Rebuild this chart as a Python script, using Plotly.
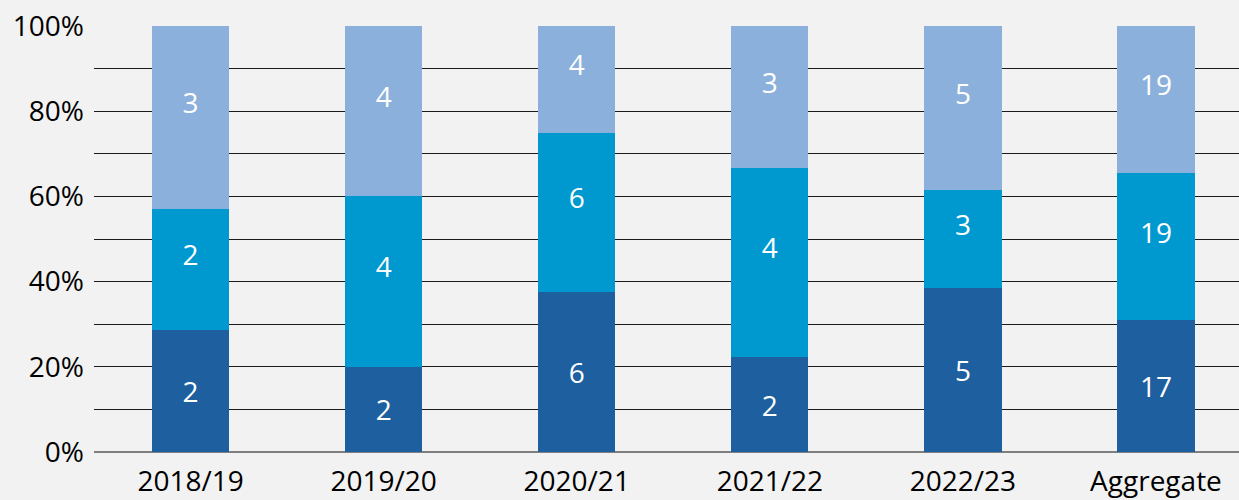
import plotly.graph_objects as go

categories = ["2018/19", "2019/20", "2020/21", "2021/22", "2022/23", "Aggregate"]
bottom_vals = [2, 2, 6, 2, 5, 17]
middle_vals = [2, 4, 6, 4, 3, 19]
top_vals = [3, 4, 4, 3, 5, 19]

# (name, values, colour, whether an invisible spacer line nudges the label upward)
series = [
    ("Series 1", bottom_vals, "#1d5f9f", False),
    ("Series 2", middle_vals, "#0099cf", True),
    ("Series 3", top_vals, "#8cb0dc", True),
]

fig = go.Figure()
for name, vals, color, nudge in series:
    spacer = "<br><span style='font-size:6px'>&nbsp;</span>" if nudge else ""
    fig.add_trace(go.Bar(
        x=categories, y=vals, name=name, marker=dict(color=color, line=dict(width=0)),
        text=[f"{v}{spacer}" for v in vals],
        textposition="inside", insidetextanchor="middle",
        textangle=0, textfont=dict(color="white", size=28, family="Open Sans"),
        hoverinfo="skip",
    ))

tickvals = [i / 10 for i in range(11)]
ticktext = [f"{int(v*100)}%" if i % 2 == 0 else "" for i, v in enumerate(tickvals)]

fig.update_layout(
    width=1239, height=500,
    barmode="stack", barnorm="fraction", bargap=0.6,
    paper_bgcolor="#f2f2f2", plot_bgcolor="#f2f2f2",
    margin=dict(l=94, r=0, t=26, b=48, autoexpand=False),
    showlegend=False,
    font=dict(family="Open Sans", color="#000000", size=28),
    uniformtext=dict(minsize=4, mode="show"),
)
fig.update_xaxes(
    range=[-0.5, 5.43], showgrid=False, showline=False, zeroline=False,
    tickfont=dict(size=28), ticks="", ticklabelstandoff=10, automargin=False,
)
fig.update_yaxes(
    range=[0, 1], tickvals=tickvals, ticktext=ticktext,
    showgrid=True, gridcolor="#1a1a1a", gridwidth=1,
    zeroline=True, zerolinecolor="#7f7f7f", zerolinewidth=1.5,
    showline=False, ticks="", ticklabelstandoff=9, automargin=False,
    tickfont=dict(size=28),
)

fig.write_html(
    "out.html",
    config={"displayModeBar": False},
    post_script="document.body.style.margin='0';document.body.style.background='#f2f2f2';",
)
